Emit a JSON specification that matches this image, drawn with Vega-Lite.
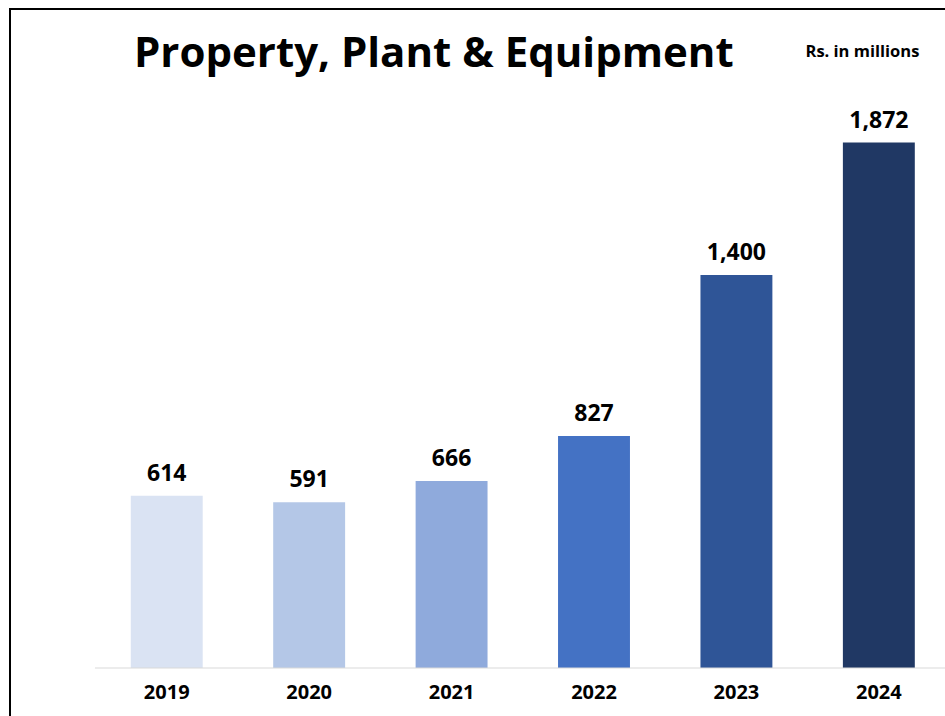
{
  "$schema": "https://vega.github.io/schema/vega-lite/v6.json",
  "width": 935,
  "height": 707,
  "autosize": {"type": "none"},
  "padding": {"left": 10, "top": 9, "right": 0, "bottom": 0},
  "background": "white",
  "config": {
    "view": {"stroke": "black", "strokeWidth": 2, "strokeDash": [935, 1642, 707]},
    "font": "Open Sans"
  },
  "title": {
    "text": "Property, Plant & Equipment",
    "anchor": "start",
    "frame": "group",
    "dx": 124,
    "dy": 100,
    "offset": 0,
    "baseline": "alphabetic",
    "fontSize": 42,
    "fontWeight": "bold",
    "font": "Open Sans",
    "color": "black"
  },
  "data": {
    "values": [
      {"year": "2019", "value": 614},
      {"year": "2020", "value": 591},
      {"year": "2021", "value": 666},
      {"year": "2022", "value": 827},
      {"year": "2023", "value": 1400},
      {"year": "2024", "value": 1872}
    ]
  },
  "layer": [
    {
      "mark": {"type": "bar"},
      "encoding": {
        "x": {
          "field": "year",
          "type": "ordinal",
          "scale": {"paddingInner": 0.495, "paddingOuter": 0.53, "align": 0.8},
          "axis": {
            "title": null,
            "orient": "bottom",
            "offset": -48,
            "domain": false,
            "ticks": false,
            "tickSize": 0,
            "labelAngle": 0,
            "labelPadding": 14,
            "labelFontSize": 20,
            "labelFontWeight": "bold",
            "labelColor": "black",
            "labelFont": "Open Sans"
          }
        },
        "y": {
          "field": "value",
          "type": "quantitative",
          "scale": {"domain": [-171, 2348], "nice": false, "zero": false},
          "axis": {
            "title": "Rs. in millions",
            "labels": false,
            "ticks": false,
            "domain": false,
            "grid": false,
            "titleAngle": 0,
            "titleX": 795,
            "titleY": 47,
            "titleAlign": "left",
            "titleBaseline": "alphabetic",
            "titleFontSize": 16.5,
            "titleFontWeight": "bold",
            "titleColor": "black",
            "titleFont": "Open Sans"
          }
        },
        "y2": {"datum": 0},
        "color": {
          "field": "year",
          "type": "ordinal",
          "scale": {
            "domain": ["2019", "2020", "2021", "2022", "2023", "2024"],
            "range": ["#DAE3F3", "#B4C7E7", "#8FAADC", "#4472C4", "#2F5597", "#203864"]
          },
          "legend": null
        }
      }
    },
    {
      "mark": {"type": "text", "baseline": "alphabetic", "dy": -15, "fontSize": 23, "fontWeight": "bold", "color": "black", "font": "Open Sans"},
      "encoding": {
        "x": {"field": "year", "type": "ordinal"},
        "y": {"field": "value", "type": "quantitative"},
        "text": {"field": "value", "type": "quantitative", "format": ","}
      }
    },
    {
      "data": {"values": [{"base": 0}]},
      "mark": {"type": "rule", "color": "#D9D9D9", "strokeWidth": 1},
      "encoding": {
        "x": {"datum": "2019", "bandPosition": -0.498},
        "x2": {"datum": "2024", "bandPosition": 1.42},
        "y": {"field": "base", "type": "quantitative"}
      }
    }
  ]
}
